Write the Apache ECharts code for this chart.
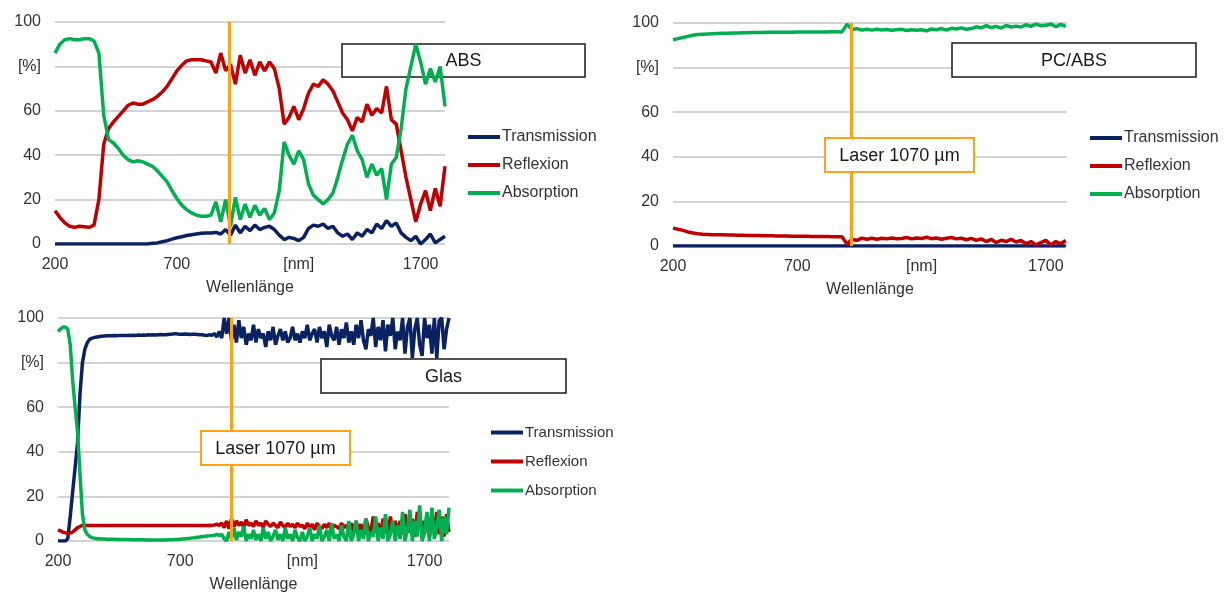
<!DOCTYPE html>
<html>
<head>
<meta charset="utf-8">
<script src="https://cdn.jsdelivr.net/npm/echarts@6.0.0/dist/echarts.min.js"></script>
<style>
html,body{margin:0;padding:0;background:#fff;}
#c{width:1227px;height:594px;}
</style>
</head>
<body>
<div id="c"></div>
<script>
// ---- data ----
const wavelength = [200,220,240,260,280,300,320,340,360,380,400,420,440,460,480,500,520,540,560,580,600,620,640,660,680,700,720,740,760,780,800,820,840,860,880,900,920,940,960,980,1000,1020,1040,1060,1080,1100,1120,1140,1160,1180,1200,1220,1240,1260,1280,1300,1320,1340,1360,1380,1400,1420,1440,1460,1480,1500,1520,1540,1560,1580,1600,1620,1640,1660,1680,1700,1720,1740,1760,1780,1800];
const glasWavelength = [200,210,220,230,240,250,260,270,280,290,300,310,320,330,340,350,360,370,380,390,
  400,410,420,430,440,450,460,470,480,490,500,510,520,530,540,550,560,570,580,590,
  600,610,620,630,640,650,660,670,680,690,700,710,720,730,740,750,760,770,780,790,
  800,810,820,830,840,850,860,870,880,890,900,910,920,930,940,950,960,970,980,990,
  1000,1010,1020,1030,1040,1050,1060,1070,1080,1090,1100,1110,1120,1130,1140,1150,1160,1170,1180,1190,
  1200,1210,1220,1230,1240,1250,1260,1270,1280,1290,1300,1310,1320,1330,1340,1350,1360,1370,1380,1390,
  1400,1410,1420,1430,1440,1450,1460,1470,1480,1490,1500,1510,1520,1530,1540,1550,1560,1570,1580,1590,
  1600,1610,1620,1630,1640,1650,1660,1670,1680,1690,1700,1710,1720,1730,1740,1750,1760,1770,1780,1790,
  1800];
const xTickValues = [200,700,1200,1700];
const seriesNames = ['Transmission','Reflexion','Absorption'];
const panelTitles = ['ABS','PC/ABS','Glas'];
const laserLabel = 'Laser 1070 µm';
const laserNm = [913, 918, 908];

// ABS
const absTransmission = [0,0,0,0,0,0,0,0,0,0,0,0,0,0,0,0,0,0,0,0,
  0.3,0.5,1,1.5,2.2,2.8,3.3,3.8,4.2,4.5,
  4.8,5,5,5.2,4.5,6.5,4,8.5,5,8,
  6,8.5,6.5,7.5,8,6.5,4,2,3,2.5,
  1.5,3,7,8.5,8,9,7,8,5,3.5,
  4.5,2,5,3.5,6.5,5,9,7,10.5,8,
  9.5,5,3,1.5,3.5,0,2,4.5,0.5,2,
  3.5];
const absReflexion = [15,12,9.5,8,7.5,8,7.8,7.5,8.5,20,
  45,52,55,57.5,60,62.5,63.5,63,63,64,
  65,66.5,68.5,71,74.5,78,80.5,82.5,83,83,
  83,82.5,82,77,86,78,81,72,85,77,
  83,76,82,78,82,79,70,54,57,62,
  56,61,68,72,71,74,72,69,64,59,
  56,51,57,55,63,58,61,59,71,56,
  54,42,30,20,10,18,24,15,25,17,
  35];
const absAbsorption = [86,90,92,92.5,92,92,92.5,92.5,91.5,86,
  58,47,45.5,43,40,38,37,37.5,37,36,
  35,33,30.5,28,24,20.5,17.5,15.5,14,13,
  12.5,12.5,13,19,10,20,8,21,11,18,
  12,17.5,13,16,11,14,24,46,40,36,
  42,38,27,22,20,18,20,23,30,38,
  45,49,42,38,30,36,31,34,20,36,
  39,52,70,80,90,82,72,79,73,80,
  62];

// PC/ABS (measured to 1780 nm)
const pcTransmission = [0,0,0,0,0,0,0,0,0,0, 0,0,0,0,0,0,0,0,0,0,
  0,0,0,0,0,0,0,0,0,0, 0,0,0,0,0,0,0,0,0,0,
  0,0,0,0,0,0,0,0,0,0, 0,0,0,0,0,0,0,0,0,0,
  0,0,0,0,0,0,0,0,0,0, 0,0,0,0,0,0,0,0,0,0];
const pcReflexion = [8,7.5,7,6.3,5.8,5.5,5.3,5.2,5.1,5,
  5,4.9,4.9,4.8,4.8,4.7,4.7,4.7,4.6,4.6,
  4.6,4.5,4.5,4.5,4.4,4.4,4.4,4.4,4.3,4.3,
  4.3,4.3,4.2,4.2,4.2,0.8,3,2.5,3.5,3,
  3.5,3,3.5,3.2,3.6,3.3,3.4,3.8,3.2,3.6,
  3.4,3.9,3.3,3.6,3,3.5,3.8,3.2,3.5,2.8,
  3.4,2.5,3.2,2,3,1.5,2.6,2,3,1.8,
  2.5,1,2,0.5,1.5,2.5,0.5,2,1,2.5];
const pcAbsorption = [92.5,93,93.5,94,94.5,94.8,95,95.1,95.2,95.3,
  95.4,95.4,95.5,95.5,95.6,95.6,95.7,95.7,95.7,95.8,
  95.8,95.8,95.9,95.9,95.9,96,96,96,96,96,
  96,96,96.1,96.1,96,99.5,97,97.5,96.8,97.2,
  96.8,97.2,96.9,97.1,96.7,97,97.2,96.6,97,96.8,
  97,96.5,97.3,97,97.5,96.8,97.6,97.3,97.8,97.2,
  97.5,98.3,97.8,98.8,97.9,98.5,97.7,98.9,98.2,98.6,
  98.2,99.2,98.5,99.5,98.8,99,99.6,98.3,99.4,98.5];

// Glas (10 nm steps)
const glasTransmission = [0,0,0,0,1,11,22,33,44,66,80,86,89,90.5,91,91.3,91.5,91.7,91.8,91.9,
  92,92,92,92.1,92,92.2,92.1,92.1,92.2,92.3,92.2,92.3,92.2,92.4,92.3,92.4,92.3,92.5,92.4,92.5,
  92.4,92.5,92.6,92.5,92.5,92.6,92.7,92.8,93,92.8,92.7,92.7,92.8,92.7,92.6,92.7,92.7,92.6,92.5,92.5,
  92.3,92.2,92.5,92.3,93,91.5,94,91,100,93,100,90,97,89,99,91,96,88,93,90,
  97,89,95,91,93,87,94,90,96,88,92,95,90,94,89,91,96,90,93,89,
  94,91,97,90,93,95,89,96,91,94,87,97,92,90,96,88,95,91,98,89,
  94,88,97,91,99,90,86,95,92,100,87,96,90,99,85,97,92,100,86,94,
  90,100,84,96,100,82,95,100,88,83,100,91,97,84,100,82,99,100,86,95,
  100];
const glasReflexion = [5,4.5,4,3.7,3.5,3.6,4,5,6,6.5,7,7,7,7,7,7,7,7,7,7,
  7,7,7,7,7,7,7,7,7,7,7,7,7,7,7,7,7,7,7,7,
  7,7,7,7,7,7,7,7,7,7,7,7,7,7,7,7,7,7,7,7,
  7,7,7.1,7,7.2,7.5,7,8,6,9,5.5,10,6.5,9,7,8.5,6,9.5,7,8,
  6.5,9,7,8,6,9,7.5,6.5,8,7,6,8.5,7,6,8,6.5,7.5,6,8,6.5,
  7,5.5,8,6,7.5,5,8,6.5,5.5,7.5,6,8,5,7,6.5,5.5,8,6,7,5,
  8,4,9,5,7.5,3,10,6,4,11,5,8,3,10,6,4,11,5,9,3,
  9,3,12,6,4,10,2,13,5,9,3,12,2,10,5,13,3,11,2,12,
  4];
const glasAbsorption = [94,95,96,96,95,88,72,60,49,30,12,5,3,2,1.5,1.2,1,1,0.9,0.9,
  0.8,0.8,0.8,0.8,0.7,0.7,0.7,0.7,0.7,0.7,0.6,0.6,0.6,0.6,0.6,0.6,0.5,0.5,0.5,0.5,
  0.5,0.5,0.5,0.5,0.5,0.6,0.6,0.6,0.7,0.7,0.8,0.9,1,1.1,1.2,1.4,1.5,1.7,1.8,2,
  2,2.2,2.3,2.5,2.5,3,2.5,3,1,0,4,1,6,0.5,4,2,6.5,0,3,1,
  5,0.5,3,0,6,1,4,0,2,5,0.5,3,0,6,1,3,0,5,1.5,0,
  4,0,2,6,0,3,1,7,0,2,5,0,8,1,3,0,7,2,0,9,
  0,3,9,0,5,1,10,0,4,2,11,0,6,1,12,0,3,9,0,7,
  1,13,0,5,14,0,9,2,16,0,4,13,0,15,1,6,14,0,11,3,
  15];

// ---- chart ----
const FONT = '"Liberation Sans", Arial, sans-serif';
const TXT = '#333333';
const colors = ['#0b2262', '#c00000', '#00b050'];

const panels = [
  {grid:{left:55, top:22, width:390, height:222}, xMax:1800, x:wavelength, data:[absTransmission, absReflexion, absAbsorption],
   legend:{left:463, top:124, itemGap:12, fontSize:16}},
  {grid:{left:673, top:23, width:394, height:223}, xMax:1785, x:wavelength, data:[pcTransmission, pcReflexion, pcAbsorption],
   legend:{left:1085, top:125, itemGap:12, fontSize:16}},
  {grid:{left:58, top:318, width:391, height:223}, xMax:1800, x:glasWavelength, data:[glasTransmission, glasReflexion, glasAbsorption],
   legend:{left:486, top:420, itemGap:14, fontSize:15}}
];

const option = {
  animation: false,
  backgroundColor: '#ffffff',
  textStyle: {fontFamily: FONT},
  grid: panels.map(p => Object.assign({containLabel:false}, p.grid)),
  xAxis: panels.map((p, i) => ({
    type:'value', gridIndex:i, min:200, max:p.xMax,
    axisLine:{show:false}, axisTick:{show:false}, splitLine:{show:false},
    axisLabel:{customValues:xTickValues, color:TXT, fontSize:16, fontFamily:FONT, margin:13,
      formatter: v => v === 1200 ? '[nm]' : String(v)},
    name:'Wellenlänge', nameLocation:'middle', nameGap:36,
    nameTextStyle:{color:TXT, fontSize:16, fontFamily:FONT}
  })),
  yAxis: panels.map((p, i) => ({
    type:'value', gridIndex:i, min:0, max:100, interval:20,
    axisLine:{show:false}, axisTick:{show:false},
    splitLine:{show:true, lineStyle:{color:'#c4c4c4', width:1.5}},
    axisLabel:{color:TXT, fontSize:16, fontFamily:FONT, margin:14,
      formatter: v => v === 80 ? '[%]' : String(v)}
  })),
  legend: panels.map(p => ({
    orient:'vertical', left:p.legend.left, top:p.legend.top, itemGap:p.legend.itemGap,
    icon:'rect', itemWidth:32, itemHeight:4,
    textStyle:{color:TXT, fontSize:p.legend.fontSize, fontFamily:FONT, padding:[0,0,0,-3]},
    data: seriesNames
  })),
  series: [],
  graphic: []
};

panels.forEach((p, pi) => {
  p.data.forEach((vals, si) => {
    const s = {
      type:'line', name:seriesNames[si], xAxisIndex:pi, yAxisIndex:pi,
      data: vals.map((v, k) => [p.x[k], v]),
      showSymbol:false, symbol:'none', smooth:false,
      lineStyle:{color:colors[si], width:3.5}, itemStyle:{color:colors[si]},
      z: 2 + si
    };
    if (si === 2) {
      s.markLine = {
        silent:true, symbol:['none','none'], label:{show:false}, z:8,
        lineStyle:{color:'#ffa21a', width:3, type:'solid'},
        data:[{xAxis: laserNm[pi]}]
      };
    }
    option.series.push(s);
  });
});

// title boxes
const titleBoxes = [
  {x:342, y:44, w:243, h:33},
  {x:952, y:43, w:244, h:34},
  {x:321, y:359, w:245, h:34}
];
titleBoxes.forEach((b, i) => {
  option.graphic.push({
    type:'group', z:1, children:[
      {type:'rect', shape:{x:b.x, y:b.y, width:b.w, height:b.h}, style:{fill:'#ffffff', stroke:'#1a1a1a', lineWidth:1.5}, z:1},
      {type:'text', x:b.x + b.w/2, y:b.y + b.h/2 + 1, style:{text:panelTitles[i], fill:'#1a1a1a', font:'18px ' + FONT, textAlign:'center', textVerticalAlign:'middle'}, z:1}
    ]
  });
});

// laser label boxes (PC/ABS and Glas)
const laserBoxes = [
  {x:825, y:138, w:149, h:34},
  {x:201, y:431, w:149, h:34}
];
laserBoxes.forEach(b => {
  option.graphic.push({
    type:'group', z:100, children:[
      {type:'rect', shape:{x:b.x, y:b.y, width:b.w, height:b.h}, style:{fill:'#ffffff', stroke:'#ffa21a', lineWidth:2}, z:100},
      {type:'text', x:b.x + b.w/2, y:b.y + b.h/2 + 1, style:{text:laserLabel, fill:'#1a1a1a', font:'18px ' + FONT, textAlign:'center', textVerticalAlign:'middle'}, z:101}
    ]
  });
});

const chart = echarts.init(document.getElementById('c'), null, {renderer:'canvas'});
chart.setOption(option);
</script>
</body>
</html>
